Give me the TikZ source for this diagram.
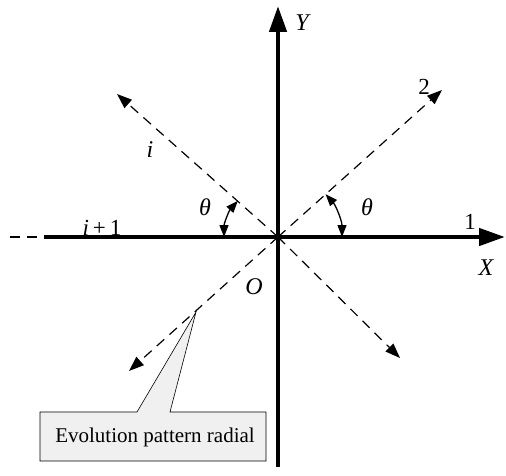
\documentclass[tikz,border=0pt]{standalone}
\usepackage{fontspec}
\setmainfont{Liberation Serif}
\usepackage{tikz}
\usetikzlibrary{positioning, arrows.meta}

\begin{document}
\begin{tikzpicture}[
    x=1pt, y=1pt,
    axis/.style={line width=4.5pt, -{Triangle[length=26pt, width=17pt]}},
    ray/.style={line width=1.2pt, dash pattern=on 10pt off 7pt, -{Triangle[length=15pt, width=11pt]}},
    lbl/.style={font=\fontsize{24}{28}\selectfont\itshape, inner sep=0pt},
    num/.style={font=\fontsize{23}{28}\selectfont, inner sep=0pt},
    ang/.style={line width=1.3pt, {Triangle[length=12pt, width=9pt]}-{Triangle[length=12pt, width=9pt]}},
    note/.style={draw, line width=0.6pt, fill=gray!12},
]
\useasboundingbox (0,0) rectangle (506,475);

% Origin and end points
\coordinate (o) at (278,238);
\coordinate (ybot) at (278,8);
\coordinate (ytop) at (278,469);
\coordinate (xleft) at (44,238);
\coordinate (xright) at (505,238);
\coordinate (xfar) at (10,238);
\coordinate (r2) at (442,385);
\coordinate (ri) at (117,381);
\coordinate (rbl) at (129,104);
\coordinate (rbr) at (400,117);

% Axes
\draw[axis] (ybot) -- (ytop);
\draw[axis] (xleft) -- (xright);
\draw[line width=1.2pt, dash pattern=on 10pt off 7pt] (xfar) -- (xleft);

% Radial directions (dashed)
\draw[ray] (o) -- (r2);
\draw[ray] (o) -- (ri);
\draw[ray] (o) -- (rbl);
\draw[ray] (o) -- (rbr);

% Angles
\draw[ang] ([shift={(138:54)}]o) arc[start angle=138, end angle=180, radius=54];
\draw[ang] ([shift={(42:64)}]o) arc[start angle=42, end angle=0, radius=64];

% Labels
\node[lbl] (ly) at (302,452) {Y};
\node[lbl] (lx) at (486,207) {X};
\node[lbl] (lo) at (254,188) {O};
\node[num] (l1) at (470,253) {1};
\node[num] (l2) at (424,388) {2};
\node[lbl] (li) at (150,325) {i};
\node[num] (lii) at (102,247) {\textit{i}\,+\,1};
\node[lbl] (tl) at (205,268) {θ};
\node[lbl] (tr) at (367,268) {θ};

% Callout
\coordinate (tip) at (196,163);
\draw[note] (40,63) -- (137,63) -- (tip) -- (170,63) -- (266,63) -- (266,14) -- (40,14) -- cycle;
\node[num, font=\fontsize{21}{24}\selectfont] (note) at (155,38) {Evolution pattern radial};

\end{tikzpicture}
\end{document}
